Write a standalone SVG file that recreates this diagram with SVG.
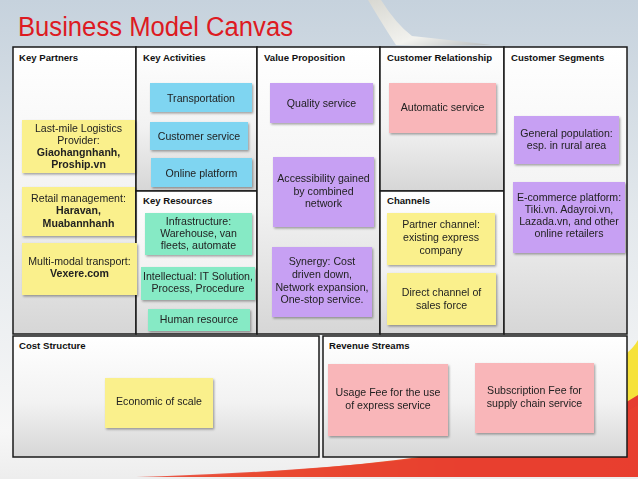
<svg xmlns="http://www.w3.org/2000/svg" width="638" height="479" viewBox="0 0 638 479">
<defs>
  <linearGradient id="bg" x1="0" y1="0" x2="0" y2="1">
    <stop offset="0" stop-color="#C6D2DD"/>
    <stop offset="0.45" stop-color="#E3E8EC"/>
    <stop offset="0.9" stop-color="#F7F7F7"/>
    <stop offset="1" stop-color="#EDEDED"/>
  </linearGradient>
  <linearGradient id="cell" x1="0" y1="0" x2="0" y2="1">
    <stop offset="0" stop-color="#FFFFFF"/>
    <stop offset="0.55" stop-color="#F2F2F2"/>
    <stop offset="1" stop-color="#D6D6D6"/>
  </linearGradient>
  <linearGradient id="wing" x1="0" y1="0" x2="1" y2="1">
    <stop offset="0" stop-color="#D8D8D2"/>
    <stop offset="0.6" stop-color="#F2F2EE"/>
    <stop offset="1" stop-color="#B8BDC0"/>
  </linearGradient>
  <linearGradient id="swoosh" x1="0" y1="0" x2="1" y2="0">
    <stop offset="0" stop-color="#F6C9A0" stop-opacity="0.3"/>
    <stop offset="0.35" stop-color="#F08A3A"/>
    <stop offset="0.7" stop-color="#E8402E"/>
    <stop offset="1" stop-color="#E63B30"/>
  </linearGradient>
  <filter id="sh" x="-10%" y="-10%" width="125%" height="130%">
    <feDropShadow dx="1.2" dy="1.5" stdDeviation="1" flood-color="#000" flood-opacity="0.35"/>
  </filter>
  <style>
    .cellbox{fill:url(#cell);stroke:#1a1a1a;stroke-width:1.5}
    .hdr{font-family:"Liberation Sans",Arial,sans-serif;font-weight:bold;font-size:9.6px;fill:#111}
    .t{font-family:"Liberation Sans",Arial,sans-serif;font-size:10.6px;fill:#222;text-anchor:middle}
    .b{font-weight:bold}
    .note{filter:url(#sh)}
    .y{fill:#FAF08C}
    .c{fill:#7FD5F1}
    .m{fill:#86EAC5}
    .p{fill:#C7A0F3}
    .k{fill:#F9B6B9}
  </style>
</defs>

<!-- background -->
<rect x="0" y="0" width="638" height="479" fill="url(#bg)"/>
<path d="M368,0 L381,0 Q396,24 412,36 Q450,40 492,45 L420,46 L396,45 Q386,30 368,0 Z" fill="url(#wing)"/>
<path d="M600,370 Q630,355 638,340 L638,479 L600,479 Z" fill="#F6E23A"/>
<path d="M40,479 Q340,478 520,440 Q600,420 638,395 L638,479 Z" fill="url(#swoosh)"/>
<path d="M60,479 Q340,474 520,445 Q600,428 638,405 L638,479 Z" fill="#E8402F" opacity="0.85"/>
<rect x="0" y="477" width="638" height="2" fill="#EDEDED"/>

<!-- title -->
<text x="18" y="36" font-family="'Liberation Sans',Arial,sans-serif" font-size="27" fill="#DD1A22" textLength="275" lengthAdjust="spacingAndGlyphs">Business Model Canvas</text>

<!-- canvas cells -->
<g id="cells">
  <g id="key-partners"><rect class="cellbox" x="13" y="47" width="123" height="287"/><text class="hdr" x="19" y="61">Key Partners</text></g>
  <g id="key-activities"><rect class="cellbox" x="136" y="47" width="121" height="144"/><text class="hdr" x="143" y="61">Key Activities</text></g>
  <g id="key-resources"><rect class="cellbox" x="136" y="191" width="121" height="143"/><text class="hdr" x="143" y="204">Key Resources</text></g>
  <g id="value-proposition"><rect class="cellbox" x="257" y="47" width="123" height="287"/><text class="hdr" x="264" y="61">Value Proposition</text></g>
  <g id="customer-relationship"><rect class="cellbox" x="380" y="47" width="124" height="144"/><text class="hdr" x="387" y="61">Customer Relationship</text></g>
  <g id="channels"><rect class="cellbox" x="380" y="191" width="124" height="143"/><text class="hdr" x="387" y="204">Channels</text></g>
  <g id="customer-segments"><rect class="cellbox" x="504" y="47" width="123" height="287"/><text class="hdr" x="511" y="61">Customer Segments</text></g>
  <g id="cost-structure"><rect class="cellbox" x="13" y="336" width="306" height="121"/><text class="hdr" x="19" y="349">Cost Structure</text></g>
  <g id="revenue-streams"><rect class="cellbox" x="323" y="336" width="304" height="121"/><text class="hdr" x="329" y="349">Revenue Streams</text></g>
</g>

<g id="connectors"></g>

<!-- notes -->
<g id="kp1" class="note"><rect class="y" x="22" y="120" width="113" height="53"/>
  <text class="t" x="78.5" y="132">Last-mile Logistics</text><text class="t" x="78.5" y="144">Provider:</text>
  <text class="t b" x="78.5" y="156">Giaohangnhanh,</text><text class="t b" x="78.5" y="168">Proship.vn</text></g>
<g id="kp2" class="note"><rect class="y" x="22" y="187" width="113" height="49"/>
  <text class="t" x="78.5" y="202">Retail management:</text><text class="t b" x="78.5" y="214">Haravan,</text>
  <text class="t b" x="78.5" y="227">Muabannhanh</text></g>
<g id="kp3" class="note"><rect class="y" x="22" y="243" width="115" height="52"/>
  <text class="t" x="79.5" y="265">Multi-modal transport:</text><text class="t b" x="79.5" y="277">Vexere.com</text></g>

<g id="ka1" class="note"><rect class="c" x="150" y="83" width="102" height="29"/><text class="t" x="201" y="101.5">Transportation</text></g>
<g id="ka2" class="note"><rect class="c" x="150" y="122" width="98" height="28"/><text class="t" x="199" y="140">Customer service</text></g>
<g id="ka3" class="note"><rect class="c" x="151" y="158" width="101" height="29"/><text class="t" x="201.5" y="176.5">Online platform</text></g>

<g id="kr1" class="note"><rect class="m" x="145" y="213" width="107" height="42"/>
  <text class="t" x="198.5" y="225">Infrastructure:</text><text class="t" x="198.5" y="237">Warehouse, van</text><text class="t" x="198.5" y="249">fleets, automate</text></g>
<g id="kr2" class="note"><rect class="m" x="141" y="267" width="114" height="33"/>
  <text class="t" x="198" y="280">Intellectual: IT Solution,</text><text class="t" x="198" y="292">Process, Procedure</text></g>
<g id="kr3" class="note"><rect class="m" x="148" y="309" width="102" height="22"/><text class="t" x="199" y="323">Human resource</text></g>

<g id="vp1" class="note"><rect class="p" x="270" y="83" width="103" height="40"/><text class="t" x="321.5" y="107">Quality service</text></g>
<g id="vp2" class="note"><rect class="p" x="273" y="157" width="101" height="70"/>
  <text class="t" x="323.5" y="182">Accessibility gained</text><text class="t" x="323.5" y="195">by combined</text><text class="t" x="323.5" y="207">network</text></g>
<g id="vp3" class="note"><rect class="p" x="272" y="247" width="100" height="70"/>
  <text class="t" x="322" y="265">Synergy: Cost</text><text class="t" x="322" y="278">driven down,</text>
  <text class="t" x="322" y="291">Network expansion,</text><text class="t" x="322" y="303">One-stop service.</text></g>

<g id="cr1" class="note"><rect class="k" x="389" y="83" width="107" height="50"/><text class="t" x="442.5" y="111">Automatic service</text></g>

<g id="ch1" class="note"><rect class="y" x="387" y="213" width="108" height="52"/>
  <text class="t" x="441" y="228">Partner channel:</text><text class="t" x="441" y="241">existing express</text><text class="t" x="441" y="254">company</text></g>
<g id="ch2" class="note"><rect class="y" x="387" y="273" width="109" height="52"/>
  <text class="t" x="441.5" y="296">Direct channel of</text><text class="t" x="441.5" y="309">sales force</text></g>

<g id="cs1" class="note"><rect class="p" x="514" y="116" width="105" height="48"/>
  <text class="t" x="566.5" y="137">General population:</text><text class="t" x="566.5" y="149">esp. in rural area</text></g>
<g id="cs2" class="note"><rect class="p" x="513" y="182" width="112" height="71"/>
  <text class="t" x="569" y="201">E-commerce platform:</text><text class="t" x="569" y="213">Tiki.vn. Adayroi.vn,</text>
  <text class="t" x="569" y="225">Lazada.vn, and other</text><text class="t" x="569" y="237">online retailers</text></g>

<g id="cost1" class="note"><rect class="y" x="105" y="378" width="108" height="50"/><text class="t" x="159" y="405">Economic of scale</text></g>

<g id="rev1" class="note"><rect class="k" x="328" y="364" width="120" height="72"/>
  <text class="t" x="388" y="396">Usage Fee for the use</text><text class="t" x="388" y="409">of express service</text></g>
<g id="rev2" class="note"><rect class="k" x="475" y="363" width="119" height="70"/>
  <text class="t" x="534.5" y="394">Subscription Fee for</text><text class="t" x="534.5" y="407">supply chain service</text></g>
</svg>
